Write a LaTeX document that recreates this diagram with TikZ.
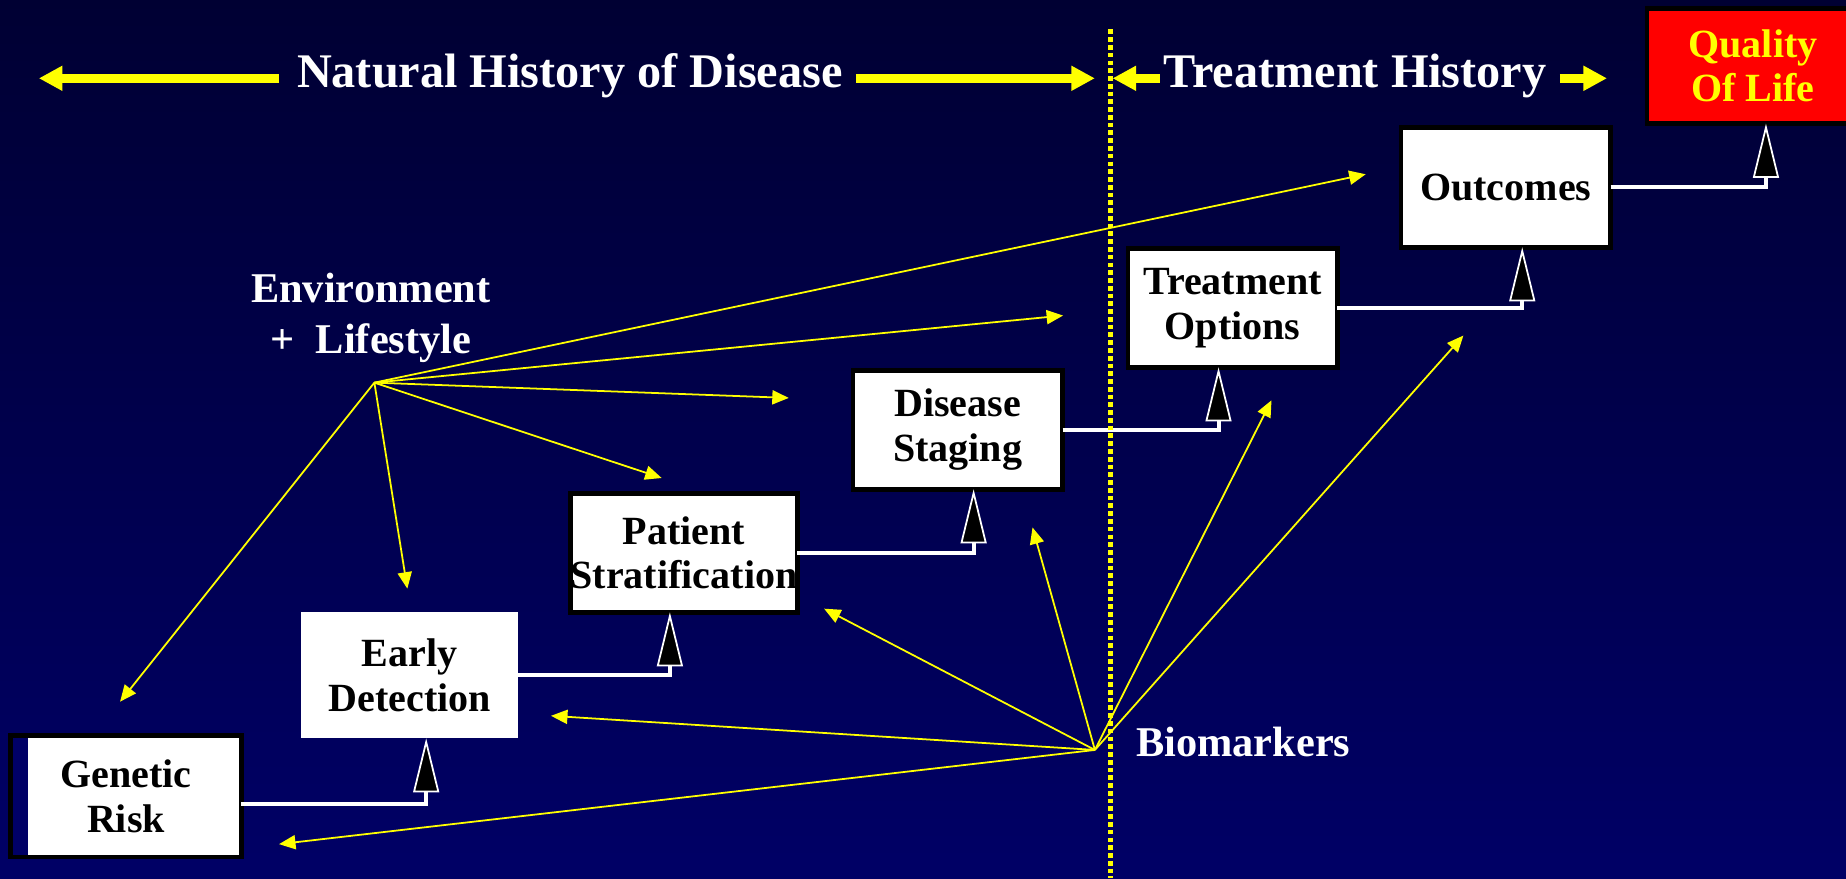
\documentclass[tikz,border=0pt]{standalone}
\usepackage{fontspec}
\setmainfont{Liberation Serif}
\usetikzlibrary{arrows.meta}
\definecolor{navytop}{RGB}{0,0,51}
\definecolor{navybot}{RGB}{0,0,102}
\definecolor{hiyellow}{RGB}{255,255,0}
\tikzset{
	stagebox/.style={draw=black, line width=2pt, fill=white, align=center, inner sep=0pt, outer sep=0pt,
		minimum width=89pt, minimum height=50.5pt, font=\fontsize{17}{19}\selectfont\bfseries},
	hdrtext/.style={text=white, anchor=base, inner sep=0pt, font=\fontsize{20.5}{24}\selectfont\bfseries},
	sidetext/.style={text=white, align=center, font=\fontsize{18}{22}\selectfont\bfseries},
	hdrarrow/.style={hiyellow, line width=3.7pt, -{Triangle[length=10pt,width=10pt]}},
	feed/.style={hiyellow, line width=0.75pt, -{Triangle[length=7pt,width=6pt]}},
	link/.style={white, line width=1.7pt,
		-{Triangle[length=23pt,width=11pt,fill=black,line width=0.75pt]}},
}

\begin{document}
\begin{tikzpicture}[x=0.5pt, y=-0.5pt]
	\useasboundingbox (0,0) rectangle (1568,746);
	\shade[top color=navytop, bottom color=navybot] (0,0) rectangle (1568,746);

	% header
	\node[hdrtext] (nat) at (484,74) {Natural History of Disease};
	\node[hdrtext] (trh) at (1151,74) {Treatment History};
	\coordinate (h1) at (33,66.5);   \coordinate (t1) at (237,66.5);
	\coordinate (h2) at (930,66.5);  \coordinate (t2) at (727,66.5);
	\coordinate (h3) at (945,66.5);  \coordinate (t3) at (985,66.5);
	\coordinate (h4) at (1365,66.5); \coordinate (t4) at (1325,66.5);
	\foreach \i in {1,...,4}
		\draw[hdrarrow] (t\i) -- (h\i);

	% stages
	\node[stagebox, minimum width=98pt, minimum height=51.5pt] (gen) at (107,676.5) {Genetic\\Risk};
	\fill[navybot] ([xshift=1pt,yshift=-1pt]gen.north west) rectangle ([xshift=7.5pt,yshift=1pt]gen.south west);
	\node[stagebox, draw=none, minimum width=92pt, minimum height=53.5pt] (early) at (348,573.5) {Early\\Detection};
	\node[stagebox] (pat) at (581,469.5) {Patient\\Stratification};
	\node[stagebox] (dis) at (813.5,365) {Disease\\Staging};
	\node[stagebox] (trt) at (1047,261.5) {Treatment\\Options};
	\node[stagebox, minimum height=51pt] (out) at (1279,159) {Outcomes};
	\node[stagebox, fill=red, text=hiyellow, minimum width=90pt, minimum height=49pt] (qol) at (1489,56) {Quality\\Of Life};

	\draw[link] ([yshift=-3pt]gen.east) -| ([xshift=7pt]early.south);
	\draw[link] (early.east) -| ([xshift=-6pt]pat.south);
	\draw[link] (pat.east) -| ([xshift=6.75pt]dis.south);
	\draw[link] (dis.east) -| ([xshift=-6pt]trt.south);
	\draw[link] (trt.east) -| ([xshift=7pt]out.south);
	\draw[link] (out.east) -| ([xshift=5.5pt]qol.south);

	% environment + lifestyle
	\node[sidetext] (env) at (315,270) {Environment\\+\ \ Lifestyle};
	\coordinate (ehub) at (318,325);
	\coordinate (e1) at (1160,148); \coordinate (e2) at (903,268);
	\coordinate (e3) at (670,338);  \coordinate (e4) at (562,406);
	\coordinate (e5) at (346,500);  \coordinate (e6) at (102,596);
	\foreach \i in {1,...,6}
		\draw[feed] (ehub) -- (e\i);

	% biomarkers
	\node[sidetext, anchor=west] (bio) at (958,630) {Biomarkers};
	\coordinate (bhub) at (930,637);
	\coordinate (b1) at (237,717);  \coordinate (b2) at (468,608);
	\coordinate (b3) at (700,517);  \coordinate (b4) at (877,448);
	\coordinate (b5) at (1080,340); \coordinate (b6) at (1243,285);
	\foreach \i in {1,...,6}
		\draw[feed] (bhub) -- (b\i);

	% divider
	\draw[hiyellow, line width=2pt, dash pattern=on 2pt off 1.3pt] (943,25) -- (943,746);
\end{tikzpicture}
\end{document}
